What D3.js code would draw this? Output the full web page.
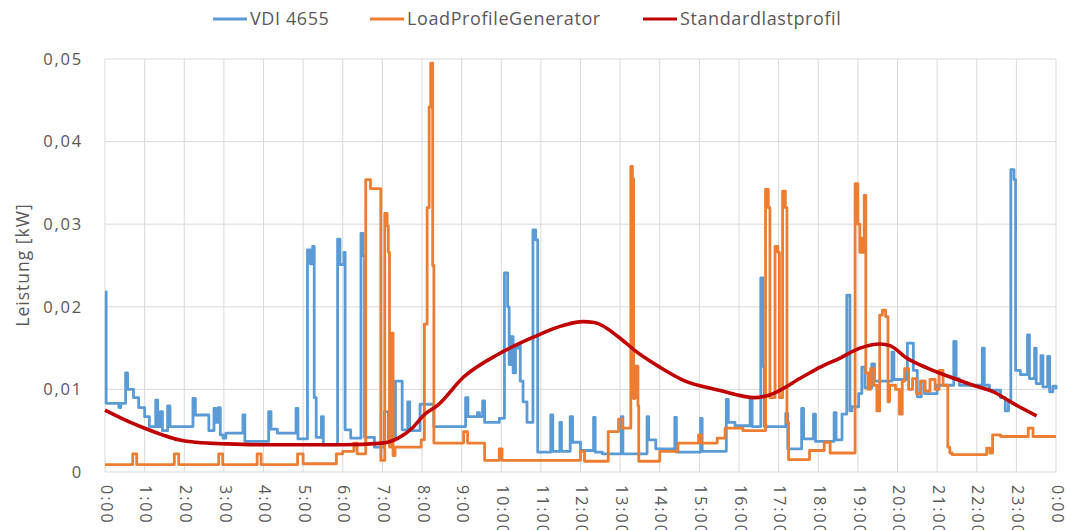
<!DOCTYPE html>
<html><head><meta charset="utf-8">
<script src="https://cdn.jsdelivr.net/npm/d3@7"></script>
<style>
body{margin:0;background:#fff;}
svg{display:block;}
text{font-family:"Open Sans",sans-serif;fill:#595959;}
</style></head>
<body>
<svg id="c" width="1066" height="530"></svg>
<script>
// ---- data ----
const seriesNames = ["VDI 4655", "LoadProfileGenerator", "Standardlastprofil"];
const hourTicks = d3.range(0, 25);
const hourLabels = hourTicks.map(h => (h % 24) + ":00");
const yTicks = [0, 0.01, 0.02, 0.03, 0.04, 0.05];
const yTickLabels = ["0", "0,01", "0,02", "0,03", "0,04", "0,05"];

// VDI 4655 (step values: value holds from time t until next t)
const vdiT = [0,0.03,0.35,0.40,0.52,0.57,0.72,0.85,1.00,1.12,1.28,1.33,1.40,1.45,1.58,1.64,2.22,2.28,2.62,2.75,2.80,2.86,2.91,2.98,3.05,3.48,3.53,4.13,4.19,4.35,4.82,4.87,
5.11,5.18,5.24,5.28,5.33,5.46,5.51,5.87,5.93,6.03,6.06,6.20,6.46,6.51,6.55,6.80,7.05,7.15,7.33,7.50,7.64,7.69,7.95,8.30,9.10,9.16,9.40,9.45,9.53,9.58,9.95,
10.08,10.16,10.20,10.24,10.30,10.36,10.42,10.48,10.55,10.65,10.80,10.87,10.92,11.25,11.30,11.48,11.52,11.74,11.80,12.00,12.33,12.37,12.55,13.03,13.07,13.68,13.72,13.90,
14.38,14.42,15.03,15.07,15.68,15.73,15.90,16.28,16.33,16.55,16.60,16.64,17.18,17.23,17.58,17.63,17.88,17.93,18.40,18.45,18.60,18.72,18.80,18.85,19.02,19.10,19.18,19.35,19.42,
19.86,19.91,20.25,20.40,20.50,20.60,20.68,21.00,21.42,21.48,21.56,22.14,22.19,22.32,22.60,22.72,22.80,22.86,22.94,22.98,23.10,23.28,23.33,23.46,23.50,23.62,23.67,23.79,23.84,23.92,24.00];
const vdiV = [0.0218,0.0083,0.0078,0.0083,0.0120,0.0100,0.0090,0.0078,0.0067,0.0055,0.0087,0.0055,0.0073,0.0050,0.0080,0.0055,0.0089,0.0069,0.0050,0.0077,0.0060,0.0078,0.0045,0.0041,0.0047,0.0069,0.0037,0.0073,0.0052,0.0047,0.0077,0.0040,
0.0269,0.0252,0.0273,0.0090,0.0042,0.0067,0.0033,0.0282,0.0251,0.0266,0.0051,0.0041,0.0289,0.0262,0.0042,0.0030,0.0073,0.0040,0.0110,0.0051,0.0085,0.0050,0.0082,0.0055,0.0090,0.0067,0.0072,0.0067,0.0086,0.0060,0.0065,
0.0241,0.0200,0.0130,0.0164,0.0120,0.0150,0.0154,0.0110,0.0085,0.0060,0.0293,0.0281,0.0024,0.0069,0.0025,0.0060,0.0025,0.0067,0.0036,0.0026,0.0066,0.0024,0.0022,0.0067,0.0022,0.0067,0.0039,0.0028,
0.0066,0.0024,0.0065,0.0025,0.0088,0.0060,0.0056,0.0088,0.0055,0.0235,0.0128,0.0055,0.0071,0.0028,0.0077,0.0040,0.0070,0.0037,0.0072,0.0039,0.0070,0.0214,0.0074,0.0079,0.0095,0.0127,0.0102,0.0131,0.0110,
0.0145,0.0112,0.0156,0.0123,0.0091,0.0110,0.0095,0.0105,0.0158,0.0113,0.0105,0.0150,0.0105,0.0099,0.0090,0.0074,0.0085,0.0366,0.0354,0.0123,0.0118,0.0166,0.0113,0.0150,0.0107,0.0141,0.0103,0.0140,0.0097,0.0104,0.0100];

// LoadProfileGenerator
const lpgT = [0,0.70,0.80,1.75,1.86,2.87,2.97,3.84,3.94,4.86,5.00,5.84,6.00,6.28,6.36,6.58,6.70,6.96,7.06,7.12,7.15,7.18,7.24,7.27,7.32,7.98,8.06,8.13,8.18,8.22,8.27,8.30,9.05,9.15,9.58,9.95,10.02,
12.00,12.10,12.70,12.96,13.05,13.27,13.31,13.34,13.37,13.40,13.43,13.45,13.47,14.00,14.46,14.98,15.05,15.45,15.65,16.10,16.67,16.74,16.78,16.91,16.98,17.02,17.10,17.17,17.21,17.25,17.78,18.15,18.30,
18.93,19.00,19.05,19.10,19.13,19.16,19.20,19.26,19.32,19.40,19.48,19.55,19.62,19.70,19.76,19.80,19.95,20.05,20.12,20.18,20.28,20.38,20.48,20.58,20.70,20.82,20.95,21.05,21.15,21.27,21.32,21.38,22.25,22.33,22.40,22.60,23.30,23.42,24.00];
const lpgV = [0.0009,0.0022,0.0009,0.0022,0.0009,0.0022,0.0009,0.0022,0.0009,0.0022,0.0010,0.0022,0.0025,0.0035,0.0022,0.0354,0.0343,0.0014,0.0313,0.0298,0.0266,0.0030,0.0168,0.0020,0.0030,0.0039,0.0179,0.0320,0.0442,0.0495,0.0250,0.0035,0.0049,0.0035,0.0014,0.0028,0.0014,
0.0025,0.0013,0.0049,0.0064,0.0053,0.0370,0.0355,0.0089,0.0128,0.0090,0.0128,0.0080,0.0013,0.0025,0.0035,0.0045,0.0035,0.0041,0.0053,0.0050,0.0342,0.0320,0.0090,0.0273,0.0266,0.0090,0.0340,0.0320,0.0060,0.0015,0.0026,0.0036,0.0023,
0.0349,0.0300,0.0266,0.0283,0.0266,0.0335,0.0120,0.0100,0.0125,0.0105,0.0074,0.0190,0.0196,0.0188,0.0085,0.0105,0.0100,0.0070,0.0110,0.0125,0.0100,0.0113,0.0095,0.0110,0.0098,0.0112,0.0100,0.0123,0.0105,0.0030,0.0023,0.0021,0.0029,0.0023,0.0045,0.0043,0.0053,0.0043,0.0043];

// Standardlastprofil (smooth)
const slpT = [0,0.6,1.0,1.45,1.85,2.3,3.1,4.0,5.0,6.0,7.0,7.4,7.75,8.05,8.4,9.05,9.9,10.75,11.6,12.05,12.35,13.0,13.4,14.0,14.6,15.5,16.4,16.75,17.6,18.05,18.55,19.05,19.56,19.81,20.23,20.74,21.33,21.91,22.42,22.92,23.51];
const slpV = [0.0075,0.0061,0.0053,0.0045,0.0039,0.0036,0.0034,0.0033,0.0033,0.0033,0.0035,0.0041,0.0053,0.0069,0.0081,0.0115,0.0142,0.0162,0.0178,0.0182,0.0181,0.0162,0.0146,0.0127,0.0111,0.0099,0.0090,0.0093,0.0115,0.0127,0.0138,0.0150,0.0155,0.0153,0.0138,0.0126,0.0115,0.0105,0.0097,0.0083,0.0068];

const colors = ["#5B9BD5", "#ED7D31", "#C00000"];

// ---- chart ----
const svg = d3.select("#c");
const x = d3.scaleLinear().domain([0, 24]).range([105, 1056]);
const y = d3.scaleLinear().domain([0, 0.05]).range([472, 59]);

const grid = svg.append("g");
grid.selectAll("line.h").data(yTicks).join("line")
  .attr("x1", x(0)).attr("x2", x(24)).attr("y1", d => y(d)).attr("y2", d => y(d))
  .attr("stroke", "#D9D9D9").attr("stroke-width", 1);
grid.selectAll("line.v").data(hourTicks).join("line")
  .attr("x1", d => x(d)).attr("x2", d => x(d)).attr("y1", y(0)).attr("y2", y(0.05))
  .attr("stroke", "#D9D9D9").attr("stroke-width", 1);

// y axis labels
const yAxis = d3.axisLeft(y).tickValues(yTicks).tickFormat((d, i) => yTickLabels[i]).tickSize(0).tickPadding(22);
const gy = svg.append("g").attr("transform", `translate(${x(0)},0)`).call(yAxis);
gy.select(".domain").remove();
gy.selectAll("text").attr("font-size", 16.5).attr("letter-spacing", "1.8px").attr("fill", "#595959")
  .attr("font-family", "Open Sans");

// x axis labels (rotated)
const xAxis = d3.axisBottom(x).tickValues(hourTicks).tickFormat((d, i) => hourLabels[i]).tickSize(0);
const gx = svg.append("g").attr("transform", `translate(0,${y(0)})`).call(xAxis);
gx.select(".domain").remove();
gx.selectAll("text")
  .attr("font-size", 16).attr("letter-spacing", "2px").attr("fill", "#595959").attr("font-family", "Open Sans")
  .attr("text-anchor", "start")
  .attr("transform", "rotate(90)")
  .attr("x", 13).attr("y", 0).attr("dy", "0.3em");

// y axis title
svg.append("text").attr("transform", `translate(29,265) rotate(-90)`)
  .attr("text-anchor", "middle").attr("font-size", 17.5).attr("letter-spacing", "1px")
  .text("Leistung [kW]");

// lines
const step = d3.line().curve(d3.curveStepAfter).x(d => x(d[0])).y(d => y(d[1]));
const smooth = d3.line().curve(d3.curveMonotoneX).x(d => x(d[0])).y(d => y(d[1]));
const vdi = vdiT.map((t, i) => [t, vdiV[i]]);
const lpg = lpgT.map((t, i) => [t, lpgV[i]]);
const slp = slpT.map((t, i) => [t, slpV[i]]);

svg.append("path").datum(vdi).attr("d", step).attr("fill", "none")
  .attr("stroke", colors[0]).attr("stroke-width", 2.8).attr("stroke-linejoin", "round");
svg.append("path").datum(lpg).attr("d", step).attr("fill", "none")
  .attr("stroke", colors[1]).attr("stroke-width", 2.8).attr("stroke-linejoin", "round");
svg.append("path").datum(slp).attr("d", smooth).attr("fill", "none")
  .attr("stroke", colors[2]).attr("stroke-width", 3.6).attr("stroke-linejoin", "round");

// legend
const legendX = [213, 370, 643];
const lg = svg.append("g").selectAll("g").data(seriesNames).join("g")
  .attr("transform", (d, i) => `translate(${legendX[i]},19)`);
lg.append("line").attr("x1", 0).attr("x2", 34).attr("y1", 0).attr("y2", 0)
  .attr("stroke", (d, i) => colors[i]).attr("stroke-width", 3);
lg.append("text").attr("x", 37).attr("y", 0).attr("dy", "0.35em")
  .attr("font-size", 18).attr("letter-spacing", "0.6px").text(d => d);
</script>
</body></html>
